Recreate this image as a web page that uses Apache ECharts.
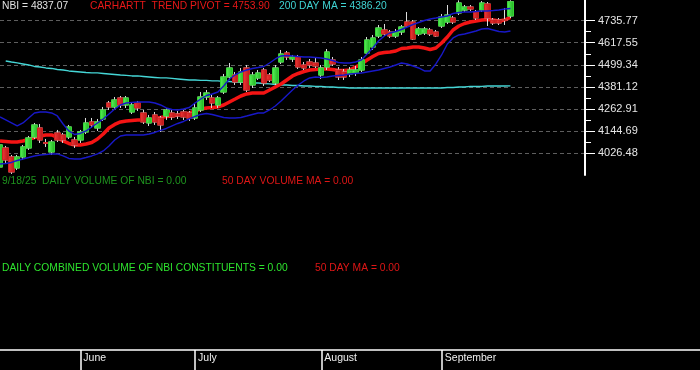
<!DOCTYPE html>
<html><head><meta charset="utf-8">
<script src="https://cdn.jsdelivr.net/npm/echarts@6/dist/echarts.min.js"></script>
<style>html,body{margin:0;padding:0;background:#000}#c{width:700px;height:370px}</style>
</head><body><div id="c"></div>
<script>
const dates = ['5/12','5/13','5/14','5/15','5/16','5/19','5/20','5/21','5/22','5/23','5/27','5/28','5/29','5/30',
'6/2','6/3','6/4','6/5','6/6','6/9','6/10','6/11','6/12','6/13','6/16','6/17','6/18','6/20','6/23','6/24','6/25','6/26','6/27','6/30',
'7/1','7/2','7/3','7/7','7/8','7/9','7/10','7/11','7/14','7/15','7/16','7/17','7/18','7/21','7/22','7/23','7/24','7/25','7/28','7/29','7/30','7/31',
'8/1','8/4','8/5','8/6','8/7','8/8','8/11','8/12','8/13','8/14','8/15','8/18','8/19','8/20','8/21','8/22','8/25','8/26','8/27','8/28','8/29',
'9/2','9/3','9/4','9/5','9/8','9/9','9/10','9/11','9/12','9/15','9/16','9/17','9/18'];

const opens = [3951.4,4053.3,4005.0,3946.0,4005.0,4053.3,4112.2,4160.5,4082.0,4031.8,
4133.7,4123.0,4112.2,4096.2,4096.2,4139.1,4192.7,4160.5,4208.7,4294.5,
4273.1,4321.3,4283.8,4246.3,4294.5,4240.9,4187.3,4230.2,4214.1,4224.8,
4240.9,4235.5,4246.3,4240.9,4214.1,4257.0,4326.6,4321.3,4283.8,4353.5,
4433.9,4444.6,4407.1,4482.2,4391.0,4428.6,4471.4,4444.6,4401.7,4514.3,
4562.6,4530.4,4541.1,4498.2,4514.3,4509.0,4444.6,4487.5,4525.0,4471.4,
4460.7,4450.0,4455.4,4471.4,4562.6,4594.8,4653.7,4685.9,4675.2,4653.7,
4675.2,4728.8,4728.8,4664.5,4669.8,4685.9,4675.2,4707.3,4728.8,4750.2,
4777.1,4793.1,4809.2,4782.4,4793.1,4825.3,4739.5,4739.5,4741.0,4761.0];
const closes = [4069.4,3988.9,3924.6,4005.0,4058.6,4106.9,4176.6,4096.2,4078.0,4085.4,
4096.2,4096.2,4165.9,4069.4,4139.1,4187.3,4176.6,4192.7,4257.0,4273.1,
4310.6,4283.8,4321.3,4283.8,4267.7,4192.7,4214.1,4192.7,4176.6,4257.0,
4219.5,4224.8,4219.5,4214.1,4267.7,4326.6,4348.1,4294.5,4321.3,4433.9,
4482.2,4407.1,4460.7,4364.2,4444.6,4455.4,4401.7,4417.8,4482.2,4557.2,
4541.1,4541.1,4487.5,4482.2,4498.2,4492.9,4482.2,4567.9,4503.6,4433.9,
4433.9,4471.4,4471.4,4525.0,4632.3,4643.0,4696.6,4664.5,4653.7,4675.2,
4702.0,4707.3,4637.6,4691.3,4691.3,4664.5,4653.7,4755.6,4766.3,4728.8,
4830.7,4809.2,4798.5,4750.2,4830.7,4750.2,4723.4,4723.4,4738.0,4837.07];
const lows = [3935.3,3972.8,3913.9,3935.3,3988.9,4042.5,4101.5,4080.1,4058.6,4015.7,
4085.4,4080.1,4101.5,4053.3,4080.1,4128.3,4160.5,4144.4,4198.0,4257.0,
4262.3,4267.7,4267.7,4235.5,4251.6,4181.9,4171.2,4176.6,4139.1,4203.4,
4203.4,4208.7,4203.4,4198.0,4203.4,4246.3,4310.6,4267.7,4267.7,4342.8,
4417.8,4391.0,4391.0,4353.5,4374.9,4417.8,4385.6,4407.1,4391.0,4503.6,
4525.0,4514.3,4476.8,4471.4,4482.2,4482.2,4423.2,4471.4,4492.9,4417.8,
4417.8,4433.9,4439.3,4460.7,4551.9,4578.7,4643.0,4653.7,4643.0,4643.0,
4659.1,4696.6,4632.3,4653.7,4659.1,4653.7,4648.4,4696.6,4718.1,4718.1,
4766.3,4782.4,4787.8,4739.5,4782.4,4707.3,4712.7,4712.7,4712.7,4750.2];
const highs = [4080.1,4064.0,4015.7,4015.7,4069.4,4117.6,4187.3,4181.9,4101.5,4096.2,
4149.8,4133.7,4176.6,4112.2,4149.8,4214.1,4214.1,4208.7,4273.1,4305.2,
4326.6,4332.0,4332.0,4294.5,4305.2,4257.0,4230.2,4246.3,4224.8,4267.7,
4257.0,4251.6,4257.0,4251.6,4294.5,4353.5,4364.2,4337.4,4332.0,4450.0,
4509.0,4460.7,4482.2,4498.2,4460.7,4471.4,4482.2,4455.4,4498.2,4578.7,
4573.3,4551.9,4551.9,4514.3,4530.4,4535.8,4498.2,4584.0,4541.1,4487.5,
4476.8,4487.5,4492.9,4541.1,4648.4,4659.1,4712.7,4718.1,4685.9,4691.3,
4712.7,4782.4,4739.5,4702.0,4702.0,4696.6,4685.9,4771.7,4819.9,4761.0,
4845.0,4819.9,4819.9,4793.1,4841.0,4836.0,4750.2,4750.2,4803.9,4845.0];

const trendPivot = [4090.8,4088.1,4085.4,4085.4,4090.8,4098.8,4109.5,4117.6,4123.0,4123.0,
4109.5,4090.8,4077.4,4069.4,4069.4,4074.7,4082.7,4101.5,4128.3,4160.5,
4179.3,4192.7,4198.0,4200.7,4203.4,4203.4,4203.4,4208.7,4216.8,4222.1,
4224.8,4230.2,4235.5,4240.9,4251.6,4262.3,4267.7,4270.4,4273.1,4283.8,
4299.9,4315.9,4332.0,4342.8,4348.1,4348.1,4348.1,4364.2,4380.3,4396.4,
4417.8,4439.3,4452.7,4463.4,4471.4,4474.1,4476.8,4476.8,4474.1,4468.8,
4468.8,4471.4,4487.5,4503.6,4525.0,4543.8,4559.9,4565.3,4567.9,4573.3,
4586.7,4589.4,4594.8,4594.8,4589.4,4581.4,4589.4,4616.2,4648.4,4685.9,
4707.3,4720.7,4728.8,4734.2,4739.5,4742.2,4739.5,4734.2,4739.5,4753.9];
const upperBand = [4219.5,4203.4,4187.3,4171.2,4187.3,4214.1,4240.9,4246.3,4246.3,4240.9,
4224.8,4181.9,4144.4,4125.6,4131.0,4144.4,4165.9,4187.3,4208.7,4235.5,
4262.3,4283.8,4294.5,4297.2,4299.9,4299.9,4299.9,4294.5,4283.8,4267.7,
4259.7,4257.0,4262.3,4270.4,4294.5,4315.9,4334.7,4342.8,4353.5,4385.6,
4423.2,4444.6,4460.7,4471.4,4479.5,4484.8,4490.2,4509.0,4530.4,4546.5,
4549.2,4546.5,4543.8,4541.1,4541.1,4538.5,4535.8,4530.4,4522.4,4511.6,
4509.0,4509.0,4514.3,4525.0,4557.2,4589.4,4626.9,4653.7,4669.8,4677.9,
4688.6,4702.0,4715.4,4726.1,4736.8,4744.9,4750.2,4755.6,4761.0,4774.4,
4779.7,4782.4,4782.4,4785.1,4787.8,4787.8,4790.4,4793.1,4798.5,4801.2];
const lowerBand = [3967.5,3970.2,3975.5,3986.2,3994.3,4002.3,4010.4,4015.7,4018.4,4021.1,
4021.1,4010.4,3997.0,3994.3,3994.3,4002.3,4010.4,4021.1,4037.2,4064.0,
4096.2,4117.6,4123.0,4123.0,4123.0,4123.0,4128.3,4136.4,4147.1,4157.8,
4171.2,4184.6,4195.3,4208.7,4222.1,4232.9,4238.2,4232.9,4224.8,4216.8,
4214.1,4214.1,4216.8,4224.8,4232.9,4240.9,4240.9,4257.0,4278.4,4305.2,
4334.7,4364.2,4391.0,4412.5,4428.6,4433.9,4431.2,4433.9,4439.3,4442.0,
4444.6,4450.0,4452.7,4455.4,4460.7,4466.1,4471.4,4479.5,4487.5,4498.2,
4509.0,4503.6,4492.9,4482.2,4466.1,4466.1,4503.6,4551.9,4610.8,4643.0,
4659.1,4664.5,4672.5,4680.5,4691.3,4694.0,4685.9,4677.9,4675.2,4680.5];
const ma200 = [null,4519.7,4514.3,4509.0,4503.6,4498.2,4490.2,4487.5,4482.2,4479.5,
4474.1,4471.4,4466.1,4463.4,4460.7,4458.0,4455.4,4455.4,4452.7,4450.0,
4447.3,4444.6,4442.0,4439.3,4439.3,4436.6,4433.9,4431.2,4428.6,4428.6,
4425.9,4423.2,4420.5,4417.8,4417.8,4415.2,4415.2,4412.5,4412.5,4409.8,
4409.8,4407.1,4407.1,4404.4,4401.7,4401.7,4399.0,4396.4,4393.7,4391.0,
4391.0,4388.3,4388.3,4385.6,4385.6,4383.0,4383.0,4380.3,4380.3,4377.6,
4377.6,4374.9,4374.9,4374.9,4374.9,4374.9,4374.9,4374.9,4374.9,4374.9,
4374.9,4374.9,4374.9,4374.9,4374.9,4374.9,4374.9,4374.9,4377.6,4377.6,
4380.3,4380.3,4383.0,4383.0,4383.0,4385.6,4385.6,4385.6,4385.6,4386.2];

const yTicks = [4026.48,4144.69,4262.91,4381.12,4499.34,4617.55,4735.77];
const monthStarts = ['6/2','7/1','8/1','9/2'];
const monthNames = ['June','July','August','September'];
const headerTexts = [
  ['NBI = 4837.07', 2, 1, '#e2e2e2'],
  ['CARHARTT  TREND PIVOT = 4753.90', 90, 1, '#e81818'],
  ['200 DAY MA = 4386.20', 279, 1, '#3fd3d3'],
  ['9/18/25  DAILY VOLUME OF NBI = 0.00', 2, 176, '#1e941e'],
  ['50 DAY VOLUME MA = 0.00', 222, 176, '#de1616'],
  ['DAILY COMBINED VOLUME OF NBI CONSTITUENTS = 0.00', 2, 263, '#2ee42e'],
  ['50 DAY MA = 0.00', 315, 263, '#de1616']
];

const FONT = 'Liberation Sans, Arial, sans-serif';
const G = echarts.graphic;
const GREEN = new G.LinearGradient(0, 0, 1, 0, [{offset: 0, color: '#5cf55c'}, {offset: 1, color: '#1fae1f'}]);
const RED = new G.LinearGradient(0, 0, 1, 0, [{offset: 0, color: '#f23a3a'}, {offset: 1, color: '#b31515'}]);
const GREEN_B = '#36d636', RED_B = '#cf2020';
const priceCats = dates.slice(); for (let k = 0; priceCats.length < 103; k++) priceCats.push('p' + k);
const axisCats = dates.slice(); for (let k = 0; axisCats.length < 123; k++) axisCats.push('q' + k);
const yMinor = []; for (let i = 1; i < yTicks.length; i++) yMinor.push((yTicks[i - 1] + yTicks[i]) / 2);
const candleFull = dates.map((d, i) => [opens[i], closes[i], lows[i], highs[i]]);
const candleBody = dates.map((d, i) => [opens[i], closes[i], Math.min(opens[i], closes[i]), Math.max(opens[i], closes[i])]);

const YMIN = 3908.26, YMAX = 4846.75;
const chart = echarts.init(document.getElementById('c'), null, {renderer: 'canvas'});
const lineS = (name, data, color, width, z) => ({
  name, type: 'line', data, xAxisIndex: 0, yAxisIndex: 0, symbol: 'none', showSymbol: false,
  lineStyle: {color, width}, itemStyle: {color}, silent: true, z, connectNulls: false
});
chart.setOption({
  backgroundColor: '#000',
  animation: false,
  title: headerTexts.map(t => ({
    text: t[0], left: t[1], top: t[2], padding: 0,
    textStyle: {color: t[3], fontSize: 10.3, fontWeight: 'normal', fontFamily: FONT}
  })),
  grid: [
    {left: 0, top: 0, width: 585, height: 175, outerBoundsMode: 'none', containLabel: false},
    {left: 0, top: 350, width: 700, height: 20, outerBoundsMode: 'none', containLabel: false}
  ],
  xAxis: [
    {type: 'category', gridIndex: 0, data: priceCats, boundaryGap: false, show: false},
    {type: 'category', gridIndex: 1, data: axisCats, boundaryGap: false, position: 'top',
      axisLine: {show: true, onZero: false, lineStyle: {color: '#ffffff', width: 1.5}},
      axisTick: {show: true, inside: true, length: 20, interval: (i, v) => monthStarts.indexOf(v) >= 0,
        lineStyle: {color: '#ffffff', width: 1.5}},
      axisLabel: {show: true, inside: true, interval: (i, v) => monthStarts.indexOf(v) >= 0,
        formatter: v => monthNames[monthStarts.indexOf(v)] || '', align: 'left', verticalAlign: 'top',
        padding: [0, 0, 0, 3], margin: 3, color: '#f0f0f0', fontSize: 10.5, fontFamily: FONT},
      splitLine: {show: false}}
  ],
  yAxis: [
    {type: 'value', gridIndex: 0, position: 'right', min: YMIN, max: YMAX,
      axisLine: {show: true, onZero: false, lineStyle: {color: '#ffffff', width: 2}},
      axisTick: {show: true, customValues: yTicks, length: 10, lineStyle: {color: '#ffffff', width: 1}},
      axisLabel: {show: true, customValues: yTicks, formatter: v => Number(v).toFixed(2), margin: 13,
        color: '#e6e6e6', fontSize: 11, fontFamily: FONT},
      splitLine: {show: true, lineStyle: {color: '#5e5e5e', width: 1, type: [4, 3]}}},
    {type: 'value', gridIndex: 0, position: 'right', min: YMIN, max: YMAX,
      axisLine: {show: false, onZero: false},
      axisTick: {show: true, customValues: yMinor, length: 6, lineStyle: {color: '#ffffff', width: 1}},
      axisLabel: {show: false}, splitLine: {show: false}},
    {type: 'value', gridIndex: 1, show: false, min: 0, max: 1, splitLine: {show: false}}
  ],
  series: [
    lineS('200 DAY MA', ma200, '#45d6d6', 1.3, 2),
    lineS('CARHARTT TREND PIVOT', trendPivot, '#f41414', 3.5, 3),
    {name: 'NBI wicks', type: 'candlestick', xAxisIndex: 0, yAxisIndex: 0, data: candleFull, barWidth: 6, z: 4, silent: true,
      itemStyle: {color: GREEN_B, color0: RED_B, borderColor: '#dcdcdc', borderColor0: '#dcdcdc', borderWidth: 1}},
    {name: 'NBI bodies', type: 'candlestick', xAxisIndex: 0, yAxisIndex: 0, data: candleBody, barWidth: 6, z: 5, silent: true,
      itemStyle: {color: GREEN, color0: RED, borderColor: GREEN_B, borderColor0: RED_B, borderWidth: 1}},
    lineS('Upper band', upperBand, '#1818c8', 1.4, 6),
    lineS('Lower band', lowerBand, '#1818c8', 1.4, 6),
    {type: 'line', xAxisIndex: 1, yAxisIndex: 2, data: [], silent: true}
  ]
});
</script></body></html>
